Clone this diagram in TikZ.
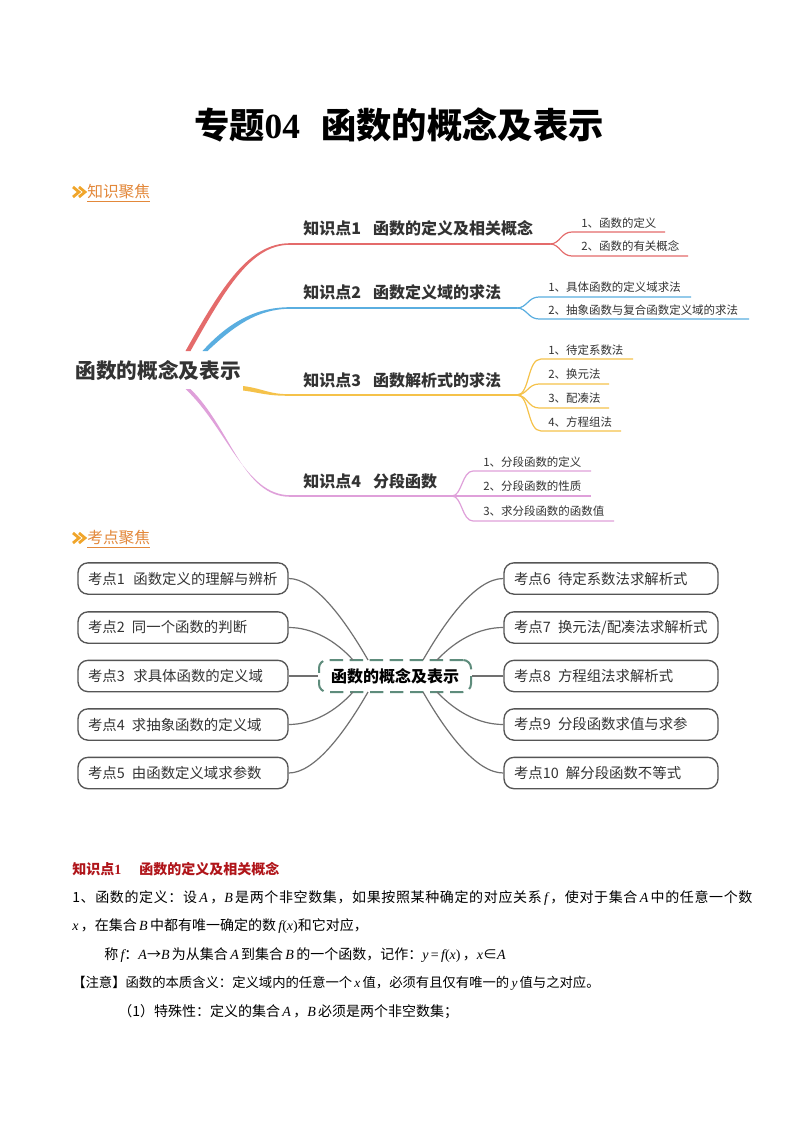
\documentclass[tikz,border=0pt]{standalone}
\usepackage{fontspec}
\setmainfont{Noto Sans CJK SC}
\newfontfamily\tms{Liberation Serif}
\usetikzlibrary{calc}
\definecolor{cred}{HTML}{E46B6B}
\definecolor{cblue}{HTML}{5AAEE0}
\definecolor{cyel}{HTML}{F5C24A}
\definecolor{cpink}{HTML}{DFA0DA}
\definecolor{corange}{HTML}{E3883A}
\definecolor{cgold}{HTML}{F0A52A}
\definecolor{cgreen}{HTML}{5E8C7C}
\definecolor{cdark}{HTML}{333333}
\definecolor{cbord}{HTML}{555555}
\definecolor{cline}{HTML}{707070}
\definecolor{chead}{HTML}{B0151A}
\newcommand{\mi}[1]{{\tms\itshape #1}}
\tikzset{
  ktext/.style={anchor=west, inner sep=0pt, text=cdark, font=\fontsize{12}{14}\selectfont\bfseries},
  stext/.style={anchor=west, inner sep=0pt, text=cdark, font=\fontsize{8.6}{10}\selectfont},
  sub/.style={line width=0.9pt},
  kbox/.style={draw=cbord, line width=1pt, rounded corners=7.5pt, minimum height=23.5pt,
     inner xsep=7.5pt, inner ysep=0pt, fill=white, text=cdark, align=left,
     font=\fontsize{10.8}{12}\selectfont},
  lbox/.style={kbox, text width=142.5pt},
  rbox/.style={kbox, text width=145.5pt},
  conn/.style={draw=cline, line width=0.9pt},
  body/.style={anchor=west, inner sep=0pt, text=black, font=\fontsize{10.5}{12}\selectfont},
  sechead/.style={anchor=west, inner sep=0pt, text=corange, font=\fontsize{11.8}{13}\selectfont},
  chevline/.style={draw=cgold, line width=2.1pt, line join=miter},
}
\begin{document}
\begin{tikzpicture}[x=0.75pt,y=-0.75pt]
\useasboundingbox (0,0) rectangle (794,1123);
\fill[white] (0,0) rectangle (794,1123);

% title
\node[font=\fontsize{26.5}{30}\selectfont\bfseries, text=black] (title) at (399,125)
  {专题{\tms\bfseries 04}\hspace{0.6em}函数的概念及表示};

% section 1 header
\draw[chevline] (73,187) -- (79,192) -- (73,197);
\draw[chevline] (79,187) -- (85,192) -- (79,197);
\coordinate (ch1) at (87,192);
\node[sechead] (sec1) at (ch1) {知识聚焦};
\draw[corange, line width=0.8pt] ($(sec1.south west)+(0,1.5)$) -- ($(sec1.south east)+(0,1.5)$);

% mind map 1
\node[font=\fontsize{15.5}{18}\selectfont\bfseries, text=cdark, inner sep=0pt] (root) at (158,371) {函数的概念及表示};

% red
\fill[cred] (185.5,351) .. controls (222,286) and (249,243.2) .. (290,243.2) -- (290,244.8) .. controls (251,244.8) and (226,288) .. (190.5,351) -- cycle;
\coordinate (r0) at (290,244);
\coordinate (rf) at (550,244);
\draw[cred, line width=1.1pt] (r0) -- (rf);
\draw[cred, sub] (rf) .. controls (560,244) and (561,232) .. (572,232) -- (665,232);
\draw[cred, sub] (rf) .. controls (560,244) and (561,256) .. (572,256) -- (688,256);
\node[ktext] (k1) at (303,228) {知识点1\hspace{0.75em}函数的定义及相关概念};
\node[stext] (s11) at (581,223) {1、函数的定义};
\node[stext] (s12) at (581,246) {2、函数的有关概念};

% blue
\fill[cblue] (202.5,351) .. controls (228,323) and (255,307.2) .. (290,307.2) -- (290,308.8) .. controls (257,308.8) and (233,327) .. (207.5,351) -- cycle;
\coordinate (b0) at (290,308);
\coordinate (bf) at (517,308);
\draw[cblue, line width=1.1pt] (b0) -- (bf);
\draw[cblue, sub] (bf) .. controls (527,308) and (528,297) .. (539,297) -- (691,297);
\draw[cblue, sub] (bf) .. controls (527,308) and (528,319) .. (539,319) -- (749,319);
\node[ktext] (k2) at (303,292) {知识点2\hspace{0.75em}函数定义域的求法};
\node[stext] (s21) at (548,287) {1、具体函数的定义域求法};
\node[stext] (s22) at (548,310) {2、抽象函数与复合函数定义域的求法};

% yellow
\fill[cyel] (243,386) .. controls (265,389) and (268,394.2) .. (290,394.2) -- (290,395.8) .. controls (266,395.8) and (262,393) .. (243,390.5) -- cycle;
\coordinate (y0) at (290,395);
\coordinate (yf) at (517,395);
\draw[cyel, line width=1.1pt] (y0) -- (yf);
\draw[cyel, sub] (yf) .. controls (530,395) and (527,359) .. (541,359) -- (633,359);
\draw[cyel, sub] (yf) .. controls (527,395) and (528,384) .. (539,384) -- (609,384);
\draw[cyel, sub] (yf) .. controls (527,395) and (528,408) .. (539,408) -- (609,408);
\draw[cyel, sub] (yf) .. controls (530,395) and (527,431) .. (541,431) -- (621,431);
\node[ktext] (k3) at (303,380) {知识点3\hspace{0.75em}函数解析式的求法};
\node[stext] (s31) at (548,350) {1、待定系数法};
\node[stext] (s32) at (548,374) {2、换元法};
\node[stext] (s33) at (548,398) {3、配凑法};
\node[stext] (s34) at (548,422) {4、方程组法};

% pink
\fill[cpink] (185.5,389) .. controls (227,428) and (245,495.2) .. (290,495.2) -- (290,496.8) .. controls (243,496.8) and (231,429) .. (190.5,389) -- cycle;
\coordinate (p0) at (290,496);
\coordinate (pf) at (452,496);
\draw[cpink, line width=1.1pt] (p0) -- (pf);
\draw[cpink, sub] (pf) .. controls (462,496) and (462,471) .. (473,471) -- (591,471);
\draw[cpink, sub] (pf) -- (591,496);
\draw[cpink, sub] (pf) .. controls (462,496) and (462,521) .. (473,521) -- (614,521);
\node[ktext] (k4) at (303,481) {知识点4\hspace{0.75em}分段函数};
\node[stext] (s41) at (483,462) {1、分段函数的定义};
\node[stext] (s42) at (483,486) {2、分段函数的性质};
\node[stext] (s43) at (483,511) {3、求分段函数的函数值};

% section 2 header
\draw[chevline] (73,533) -- (79,538) -- (73,543);
\draw[chevline] (79,533) -- (85,538) -- (79,543);
\coordinate (ch2) at (87,538);
\node[sechead] (sec2) at (ch2) {考点聚焦};
\draw[corange, line width=0.8pt] ($(sec2.south west)+(0,1.5)$) -- ($(sec2.south east)+(0,1.5)$);

% mind map 2
\node[draw=cgreen, line width=1.5pt, dash pattern=on 10pt off 5pt, rounded corners=6pt,
  minimum width=114pt, minimum height=24pt, inner sep=0pt, text=black,
  font=\fontsize{12}{14}\selectfont\bfseries] (c) at (395,676) {函数的概念及表示};

\node[lbox] (l1) at (183,578.5) {考点1\hspace{0.6em}函数定义的理解与辨析};
\node[lbox] (l2) at (183,627.5) {考点2\hspace{0.5em}同一个函数的判断};
\node[lbox] (l3) at (183,676) {考点3\hspace{0.6em}求具体函数的定义域};
\node[lbox] (l4) at (183,724.5) {考点4\hspace{0.5em}求抽象函数的定义域};
\node[lbox] (l5) at (183,773) {考点5\hspace{0.5em}由函数定义域求参数};

\node[rbox] (r1) at (611,578.5) {考点6\hspace{0.5em}待定系数法求解析式};
\node[rbox] (r2) at (611,627.5) {考点7\hspace{0.5em}换元法/配凑法求解析式};
\node[rbox] (r3) at (611,676) {考点8\hspace{0.5em}方程组法求解析式};
\node[rbox] (r4) at (611,724.5) {考点9\hspace{0.5em}分段函数求值与求参};
\node[rbox] (r5) at (611,773) {考点10\hspace{0.5em}解分段函数不等式};

\coordinate (cl1) at (368,660);
\coordinate (cl2) at (353,660);
\coordinate (cl4) at (353,692);
\coordinate (cl5) at (368,692);
\coordinate (cr1) at (423,660);
\coordinate (cr2) at (437,660);
\coordinate (cr4) at (437,692);
\coordinate (cr5) at (423,692);

\draw[conn] (l1.east) .. controls (315,578.5) and (345,620) .. (cl1);
\draw[conn] (l2.east) .. controls (312,627.5) and (335,640) .. (cl2);
\draw[conn] (l3.east) -- (c.west);
\draw[conn] (l4.east) .. controls (312,724.5) and (335,712) .. (cl4);
\draw[conn] (l5.east) .. controls (315,773) and (345,732) .. (cl5);

\draw[conn] (r1.west) .. controls (476,578.5) and (446,620) .. (cr1);
\draw[conn] (r2.west) .. controls (479,627.5) and (456,640) .. (cr2);
\draw[conn] (r3.west) -- (c.east);
\draw[conn] (r4.west) .. controls (479,724.5) and (456,712) .. (cr4);
\draw[conn] (r5.west) .. controls (476,773) and (446,732) .. (cr5);

% bottom text
\node[anchor=west, inner sep=0pt, text=chead, font=\fontsize{10.5}{12}\selectfont\bfseries] (h1) at (72,869)
  {知识点{\tms\bfseries 1}\hspace{1.3em}函数的定义及相关概念};
\node[body] (t1) at (72,898) {\addfontfeature{LetterSpace=4.5}1、函数的定义：设\,\mi{A}\,，\mi{B}\,是两个非空数集，如果按照某种确定的对应关系\,\mi{f}\,，使对于集合\,\mi{A}\,中的任意一个数};
\node[body] (t2) at (72,926) {\mi{x}\,，在集合\,\mi{B}\,中都有唯一确定的数\,\mi{f}{\tms(}\mi{x}{\tms)}和它对应，};
\node[body] (t3) at (104,955) {称\,\mi{f}：\mi{A}→\mi{B}\,为从集合\,\mi{A}\,到集合\,\mi{B}\,的一个函数，记作：\mi{y}\,{\tms=}\,\mi{f}{\tms(}\mi{x}{\tms)}\,，\mi{x}∈\mi{A}};
\node[body, font=\fontsize{10}{12}\selectfont] (t4) at (72,983) {【注意】函数的本质含义：定义域内的任意一个\,\mi{x}\,值，必须有且仅有唯一的\,\mi{y}\,值与之对应。};
\node[body] (t5) at (118,1012) {（1）特殊性：定义的集合\,\mi{A}\,，\mi{B}\,必须是两个非空数集；};
\end{tikzpicture}
\end{document}
